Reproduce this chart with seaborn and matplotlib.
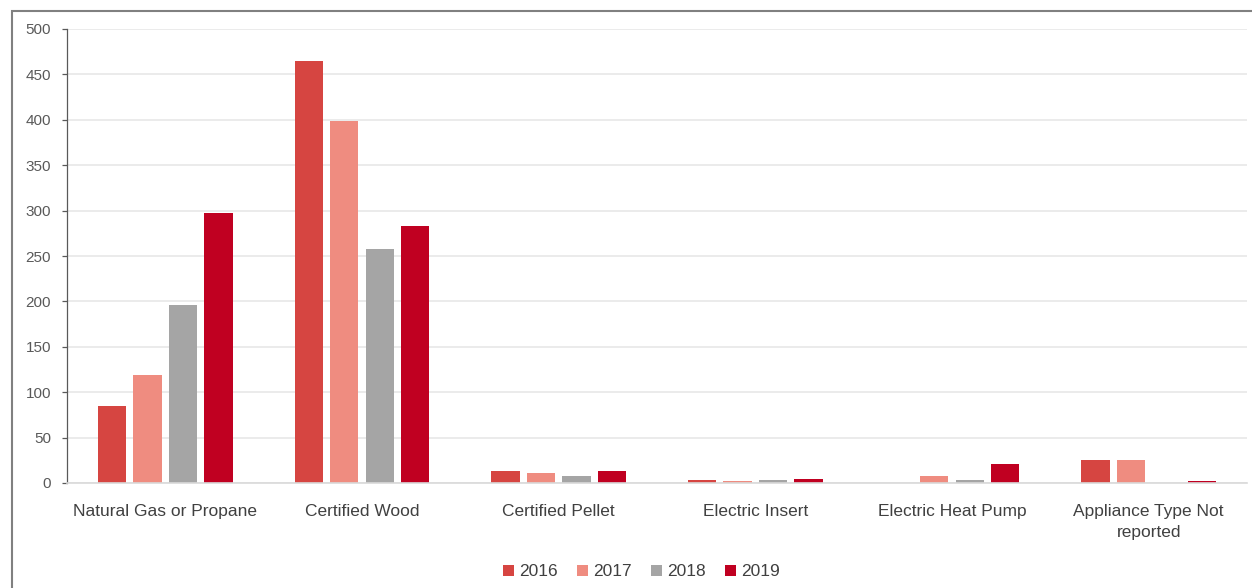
import matplotlib
matplotlib.use("Agg")
import matplotlib.pyplot as plt
import seaborn as sns
import pandas as pd
from matplotlib.patches import Rectangle

categories = ["Natural Gas or Propane", "Certified Wood", "Certified Pellet",
              "Electric Insert", "Electric Heat Pump", "Appliance Type Not\nreported"]
years = ["2016", "2017", "2018", "2019"]
v2016 = [85, 465, 13, 3, 0, 25]
v2017 = [119, 399, 11, 2, 8, 25]
v2018 = [196, 258, 8, 3, 3, 0]
v2019 = [297, 283, 13, 4, 21, 2]
colors = ["#D64541", "#EF8C80", "#A5A5A5", "#C00021"]

rows = []
for y, vals in zip(years, [v2016, v2017, v2018, v2019]):
    for c, v in zip(categories, vals):
        rows.append({"cat": c, "year": y, "val": v})
df = pd.DataFrame(rows)

sns.set_theme(style="white")
plt.rcParams['font.family'] = ['Liberation Sans', 'DejaVu Sans']

fig = plt.figure(figsize=(12.52, 5.88), dpi=100)
ax = fig.add_axes([67/1252, 1-483/588, 1180/1252, 454/588])

sns.barplot(data=df, x="cat", y="val", hue="year", palette=colors,
            width=0.72, gap=0.2, ax=ax, saturation=1, order=categories, hue_order=years,
            linewidth=0)

ax.set_ylim(0, 500)
ax.set_xlim(-0.5, 5.5)
ax.set_yticks(range(0, 501, 50))
ax.yaxis.grid(True, color="#E8E8E8", linewidth=1.2)
ax.set_axisbelow(True)
ax.set_xlabel("")
ax.set_ylabel("")
for s in ["top", "right"]:
    ax.spines[s].set_visible(False)
ax.spines["left"].set_color("#595959")
ax.spines["left"].set_linewidth(0.9)
ax.spines["bottom"].set_color("#D9D9D9")
ax.spines["bottom"].set_linewidth(1.2)
ax.tick_params(axis="y", left=True, length=3.6, width=0.9, color="#595959",
               labelsize=11, labelcolor="#595959", pad=8)
ax.tick_params(axis="x", bottom=False, labelsize=12.5, labelcolor="#404040", pad=9)
for lbl in ax.get_xticklabels():
    lbl.set_linespacing(1.55)

leg = ax.legend(loc="upper center", bbox_to_anchor=(0.487, -0.145), ncol=4, frameon=False,
                fontsize=12.5, handlelength=0.63, handleheight=0.63, handletextpad=0.3,
                columnspacing=1.1, labelcolor="#404040")

fig.patches.append(Rectangle((12/1252, -0.1), 1.2, 1-11/588+0.1, transform=fig.transFigure,
                             fill=False, edgecolor="#808080", linewidth=1.5))

fig.savefig("out.png", dpi=100)
